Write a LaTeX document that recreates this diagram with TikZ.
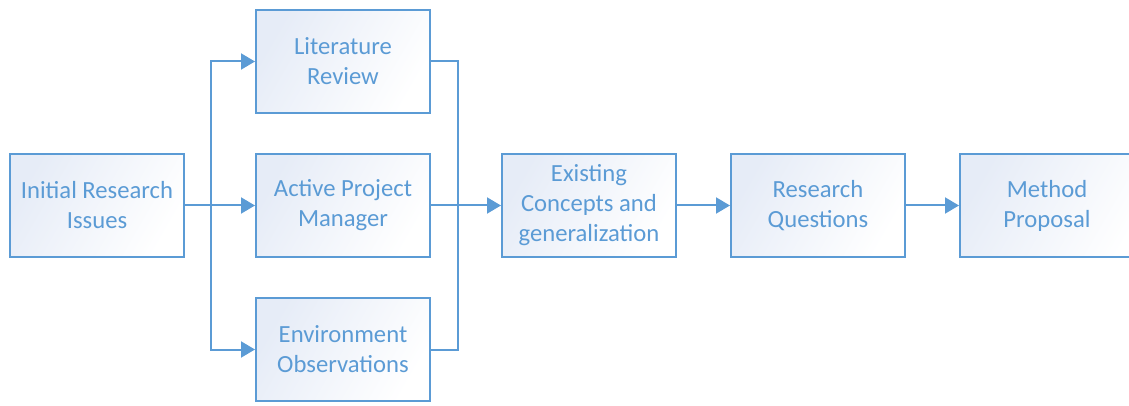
\documentclass[tikz,border=0pt]{standalone}
\usepackage{fontspec}
\setmainfont{Carlito}
\usetikzlibrary{arrows.meta}
\definecolor{bblue}{HTML}{5B9BD5}
\definecolor{bfill}{HTML}{E6ECF7}
\tikzset{
  boxshade/.style={draw=bblue, line width=1.5pt, left color=bfill, right color=white, shading angle=60},
  boxtext/.style={minimum width=130.5pt, minimum height=77.25pt, align=center, text=bblue,
    font=\fontsize{18.5}{22.5}\selectfont, inner sep=0pt, outer sep=0.75pt},
  box/.style={boxshade, boxtext},
  conn/.style={draw=bblue, line width=1.5pt},
  arr/.style={conn, -{Triangle[length=10.5pt,width=12pt]}}
}
\begin{document}
\begin{tikzpicture}[x=0.75pt,y=-0.75pt]
\useasboundingbox (0,0) rectangle (1129,406);
\clip (0,0) rectangle (1129,406);
\node[box] (init) at (97,205.5) {Initial Research\\Issues};
\node[box] (lit) at (343,61.5) {Literature\\Review};
\node[box] (apm) at (343,205.5) {Active Project\\Manager};
\node[box] (env) at (343,349.5) {Environment\\Observations};
\node[box] (ex) at (589,205.5) {Existing\\Concepts and\\generalization};
\node[box] (rq) at (818,205.5) {Research\\Questions};
\path[boxshade] (960,154) rectangle (1150,257);
\node[boxtext] (mp) at (1047,205.5) {Method\\Proposal};
\coordinate (split) at (211,205.5);
\coordinate (merge) at (458,205.5);
\draw[arr] (init.east) -- (apm.west);
\draw[arr] (split) |- (lit.west);
\draw[arr] (split) |- (env.west);
\draw[conn] (lit.east) -| (merge);
\draw[conn] (env.east) -| (merge);
\draw[arr] (apm.east) -- (ex.west);
\draw[arr] (ex.east) -- (rq.west);
\draw[arr] (rq.east) -- (mp.west);
\end{tikzpicture}
\end{document}
